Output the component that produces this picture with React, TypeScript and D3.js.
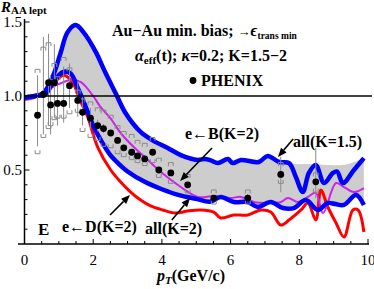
import React from "react";
import * as d3 from "d3";

type P = [number, number];

// x tick labels and y tick labels
const xTicks = [0, 2, 4, 6, 8, 10];
const xTickLabels = ["0", "2", "4", "6", "8", "10"];
const yTicks = [0.5, 1.0, 1.5];
const yTickLabels = ["0.5", "1.0", "1.5"];

// all (K=1.5) – upper blue curve
const allK15: P[] = [
  [0, 0.99], [0.3, 1.0], [0.55, 1.02], [0.82, 1.13], [1.05, 1.29], [1.25, 1.43],
  [1.49, 1.48], [1.72, 1.43], [2.07, 1.30], [2.35, 1.16], [2.65, 1.02], [2.94, 0.885],
  [3.38, 0.757], [3.73, 0.70], [4.17, 0.649], [4.55, 0.601], [5.04, 0.568], [5.25, 0.575],
  [5.42, 0.565], [5.63, 0.547], [5.92, 0.574], [6.06, 0.547], [6.3, 0.568], [6.82, 0.554],
  [7.08, 0.595], [7.41, 0.554], [7.7, 0.547], [7.9, 0.453], [8.1, 0.351], [8.28, 0.48],
  [8.48, 0.534], [8.72, 0.412], [8.98, 0.48], [9.1, 0.49], [9.27, 0.412], [9.59, 0.5], [9.88, 0.58],
];

// all (K=2) – lower blue curve
const allK2: P[] = [
  [0, 0.99], [0.3, 1.0], [0.6, 1.01], [0.83, 1.09], [1.1, 1.16], [1.33, 1.155], [1.56, 1.05],
  [1.82, 0.905], [2.0, 0.8], [2.25, 0.69], [2.5, 0.6], [2.75, 0.54], [3.0, 0.49], [3.5, 0.42],
  [4.0, 0.37], [4.5, 0.33], [5.0, 0.305], [5.4, 0.285], [5.71, 0.318], [6.09, 0.284], [6.5, 0.284],
  [6.79, 0.25], [7.17, 0.284], [7.52, 0.243], [7.84, 0.243], [8.19, 0.297], [8.54, 0.23],
  [8.83, 0.277], [9.05, 0.27], [9.3, 0.264], [9.65, 0.331], [9.88, 0.264],
];

// upper edge of the grey band
const bandTop: P[] = [
  [0, 0.99], [0.3, 1.0], [0.55, 1.02], [0.82, 1.13], [1.05, 1.29], [1.25, 1.43],
  [1.49, 1.48], [1.72, 1.43], [2.07, 1.30], [2.35, 1.16], [2.65, 1.02], [2.94, 0.885],
  [3.38, 0.757], [3.73, 0.70], [4.17, 0.649], [4.55, 0.601], [5.04, 0.568], [5.25, 0.575],
  [5.42, 0.565], [5.63, 0.547], [5.92, 0.574], [6.06, 0.547], [6.3, 0.568], [6.82, 0.554],
  [7.08, 0.595], [7.41, 0.554], [7.7, 0.547], [7.9, 0.54], [8.3, 0.54], [8.7, 0.535],
  [9.3, 0.535], [9.88, 0.58],
];

// e <- B (K=2) – magenta
const eB: P[] = [
  [0, 0.973], [0.32, 0.99], [0.76, 1.054], [1.14, 1.095], [1.34, 1.108], [1.63, 1.095],
  [2.0, 1.0], [2.2, 0.93], [2.5, 0.85], [2.8, 0.75], [3.18, 0.655], [3.59, 0.568],
  [3.97, 0.486], [4.55, 0.385], [5.04, 0.318], [5.51, 0.324], [6.0, 0.311], [6.3, 0.318],
  [6.68, 0.284], [7.08, 0.277], [7.46, 0.284], [7.67, 0.311], [7.96, 0.284], [8.25, 0.318],
  [8.48, 0.345], [8.69, 0.209], [9.07, 0.412], [9.3, 0.385], [9.59, 0.351], [9.88, 0.378],
];

// e <- D (K=2) – red
const eD: P[] = [
  [0, 0.99], [0.5, 1.01], [0.9, 1.1], [1.15, 1.14], [1.4, 1.09], [1.62, 0.97], [1.84, 0.858],
  [2.13, 0.655], [2.51, 0.5], [2.8, 0.419], [3.09, 0.351], [3.38, 0.297], [3.67, 0.257],
  [4.02, 0.23], [4.4, 0.209], [4.75, 0.223], [5.13, 0.23], [5.51, 0.216], [5.71, 0.176],
  [6.09, 0.196], [6.5, 0.196], [6.88, 0.23], [7.17, 0.216], [7.46, 0.128], [7.7, 0.162],
  [8.05, 0.23], [8.25, 0.277], [8.48, 0.162], [8.63, 0.365], [8.83, 0.25], [9.07, 0.142],
  [9.3, 0.047], [9.56, 0.23], [9.71, 0.23], [9.88, 0.081],
];

// PHENIX data
const phenixX = [0.38, 0.55, 0.7, 0.76, 0.87, 0.96, 1.14, 1.31, 1.55, 1.69, 1.92, 2.13, 2.3, 2.51, 2.71, 2.89, 3.12, 3.29, 3.5, 3.73, 3.91, 4.26, 4.75, 5.51, 6.5, 7.46, 8.48];
const phenixY = [0.87, 1.01, 1.09, 0.94, 1.09, 0.95, 0.95, 1.07, 0.97, 0.89, 0.85, 0.8, 0.78, 0.75, 0.7, 0.65, 0.62, 0.595, 0.575, 0.62, 0.5, 0.48, 0.4, 0.31, 0.31, 0.47, 0.42];
const statLo = [0.66, 0.74, 0.8, 0.74, 0.85, 0.8, 0.82, 0.92, 0.86, 0.8, 0.78, 0.76, 0.75, 0.73, 0.68, 0.63, 0.6, 0.58, 0.56, 0.6, 0.48, 0.46, 0.38, 0.29, 0.28, 0.35, 0.31];
const statHi = [1.14, 1.4, 1.42, 1.14, 1.35, 1.12, 1.2, 1.22, 1.1, 1.0, 0.92, 0.84, 0.81, 0.77, 0.72, 0.67, 0.64, 0.61, 0.59, 0.64, 0.52, 0.5, 0.42, 0.33, 0.34, 0.59, 0.65];
const sysLo = [0.61, 0.72, 0.78, 0.8, 0.84, 0.85, 0.85, 0.88, 0.89, 0.76, 0.72, 0.7, 0.66, 0.65, 0.61, 0.59, 0.57, 0.55, 0.53, 0.55, 0.45, 0.41, 0.345, 0.27, 0.27, 0.41, 0.35];
const sysHi = [1.18, 1.33, 1.36, 1.11, 1.22, 1.13, 1.26, 1.19, 1.04, 0.98, 0.96, 0.92, 0.905, 0.87, 0.8, 0.76, 0.74, 0.7, 0.68, 0.72, 0.58, 0.55, 0.47, 0.365, 0.365, 0.55, 0.48];

// annotation arrows (data coords: from -> to)
const arrows: [P, P][] = [
  [[5.46, 0.649], [4.53, 0.426]],
  [[7.82, 0.709], [7.38, 0.588]],
  [[2.49, 0.196], [3.07, 0.331]],
  [[4.29, 0.162], [4.82, 0.311]],
];

const FONT = "'Liberation Serif', 'Times New Roman', serif";

export default function App() {
  const x = d3.scaleLinear().domain([0, 10]).range([24.5, 368]);
  const y = d3.scaleLinear().domain([0, 1]).range([244, 96]);
  const line = d3
    .line<P>()
    .x((d) => x(d[0]))
    .y((d) => y(d[1]))
    .curve(d3.curveCatmullRom.alpha(0.5));

  const bandPath =
    (line(bandTop) as string) +
    "L" +
    (line(allK2.slice().reverse()) as string).slice(1) +
    "Z";

  const yMinor = d3.range(1, 16).map((i) => i / 10);
  const xMinor = d3.range(0, 21).map((i) => i / 2);

  const arrowHead = (a: P, b: P) => {
    const x1 = x(a[0]), y1 = y(a[1]), x2 = x(b[0]), y2 = y(b[1]);
    const ang = Math.atan2(y2 - y1, x2 - x1);
    const L = 9, Wd = 3.6;
    const bx = x2 - L * Math.cos(ang), by = y2 - L * Math.sin(ang);
    const px = -Math.sin(ang) * Wd, py = Math.cos(ang) * Wd;
    return {
      line: `M${x1},${y1}L${bx},${by}`,
      head: `M${x2},${y2}L${bx + px},${by + py}L${bx - px},${by - py}Z`,
    };
  };

  const bw = 2.4; // bracket half width
  const bh = 3.5; // bracket leg height

  return (
    <svg
      width={374}
      height={289}
      style={{ position: "absolute", left: 0, top: 0, background: "#fff" }}
      fontFamily={FONT}
    >
      <rect x={0} y={0} width={374} height={289} fill="#fff" />
      <path d={bandPath} fill="#cdcdcd" stroke="none" />

      <path d={line(eD) as string} fill="none" stroke="#ff0000" strokeWidth={3} strokeLinejoin="round" />
      <path d={line(eB) as string} fill="none" stroke="#cc22ee" strokeWidth={2} strokeLinejoin="round" />
      <path d={line(allK2) as string} fill="none" stroke="#0000ff" strokeWidth={4.5} strokeLinejoin="round" />
      <path d={line(allK15) as string} fill="none" stroke="#0000ff" strokeWidth={4.5} strokeLinejoin="round" />

      {/* error bars */}
      {phenixX.map((v, i) => (
        <g key={"e" + i} stroke="#8a8a8a" fill="none" strokeWidth={1}>
          <line x1={x(v)} x2={x(v)} y1={y(statLo[i])} y2={y(statHi[i])} />
          <path
            d={`M${x(v) - bw},${y(sysHi[i]) + bh}V${y(sysHi[i])}H${x(v) + bw}V${y(sysHi[i]) + bh}`}
          />
          <path
            d={`M${x(v) - bw},${y(sysLo[i]) - bh}V${y(sysLo[i])}H${x(v) + bw}V${y(sysLo[i]) - bh}`}
          />
        </g>
      ))}

      {/* reference line at 1 */}
      <line x1={x(0)} x2={372} y1={y(1)} y2={y(1)} stroke="#000" strokeWidth={1.6} />

      {phenixX.map((v, i) => (
        <circle key={"p" + i} cx={x(v)} cy={y(phenixY[i])} r={3.4} fill="#000" />
      ))}

      {/* axes */}
      <line x1={18} x2={369} y1={y(0)} y2={y(0)} stroke="#000" strokeWidth={1.5} />
      <line x1={x(0)} x2={x(0)} y1={y(0)} y2={y(1.52)} stroke="#000" strokeWidth={1.5} />
      {yMinor.map((t) => (
        <line
          key={"ym" + t}
          x1={x(0)}
          x2={x(0) + (Math.abs((t * 10) % 5) < 1e-6 ? 5 : 3)}
          y1={y(t)}
          y2={y(t)}
          stroke="#000"
          strokeWidth={1}
        />
      ))}
      {xMinor.map((t) => (
        <line
          key={"xm" + t}
          x1={x(t)}
          x2={x(t)}
          y1={y(0)}
          y2={y(0) - (t % 2 === 0 ? 5 : 3)}
          stroke="#000"
          strokeWidth={1}
        />
      ))}
      {xTicks.map((t, i) => (
        <text key={"xt" + t} x={x(t)} y={265} textAnchor="middle" fontSize={15}>
          {xTickLabels[i]}
        </text>
      ))}
      {yTicks.map((t, i) => (
        <text key={"yt" + t} x={22} y={y(t) + 5} textAnchor="end" fontSize={15}>
          {yTickLabels[i]}
        </text>
      ))}

      {/* axis titles */}
      <text x={1} y={12} fontWeight="bold">
        <tspan fontStyle="italic" fontSize={15}>R</tspan>
        <tspan fontSize={11} dy={1.5}>AA lept</tspan>
      </text>
      <text x={157} y={281} fontWeight="bold" fontSize={16}>
        <tspan fontStyle="italic">p</tspan>
        <tspan fontStyle="italic" fontSize={11} dy={3}>T</tspan>
        <tspan dy={-3}>(GeV/c)</tspan>
      </text>

      {/* header text */}
      <g fontWeight="bold" fontSize={16}>
        <text x={112} y={36}>
          <tspan>Au−Au min. bias; </tspan>
          <tspan fontSize={13}>→</tspan>
          <tspan fontStyle="italic">ϵ</tspan>
          <tspan fontSize={9.5} dy={3}>trans min</tspan>
        </text>
        <text x={135} y={61}>
          <tspan fontStyle="italic">α</tspan>
          <tspan fontSize={11} dy={3}>eff</tspan>
          <tspan dy={-3}>(t); </tspan>
          <tspan fontStyle="italic">κ</tspan>
          <tspan>=0.2; K=1.5−2</tspan>
        </text>
        <circle cx={193} cy={80.5} r={3.4} fill="#000" />
        <text x={201} y={86}>PHENIX</text>

        <text x={185} y={139}>e←B(K=2)</text>
        <text x={293} y={147}>all(K=1.5)</text>
        <text x={62} y={232}>e←D(K=2)</text>
        <text x={145} y={234}>all(K=2)</text>
        <text x={38} y={235} fontSize={17}>E</text>
      </g>

      {arrows.map(([a, b], i) => {
        const h = arrowHead(a, b);
        return (
          <g key={"a" + i}>
            <path d={h.line} stroke="#000" strokeWidth={1.6} fill="none" />
            <path d={h.head} fill="#000" />
          </g>
        );
      })}
    </svg>
  );
}
